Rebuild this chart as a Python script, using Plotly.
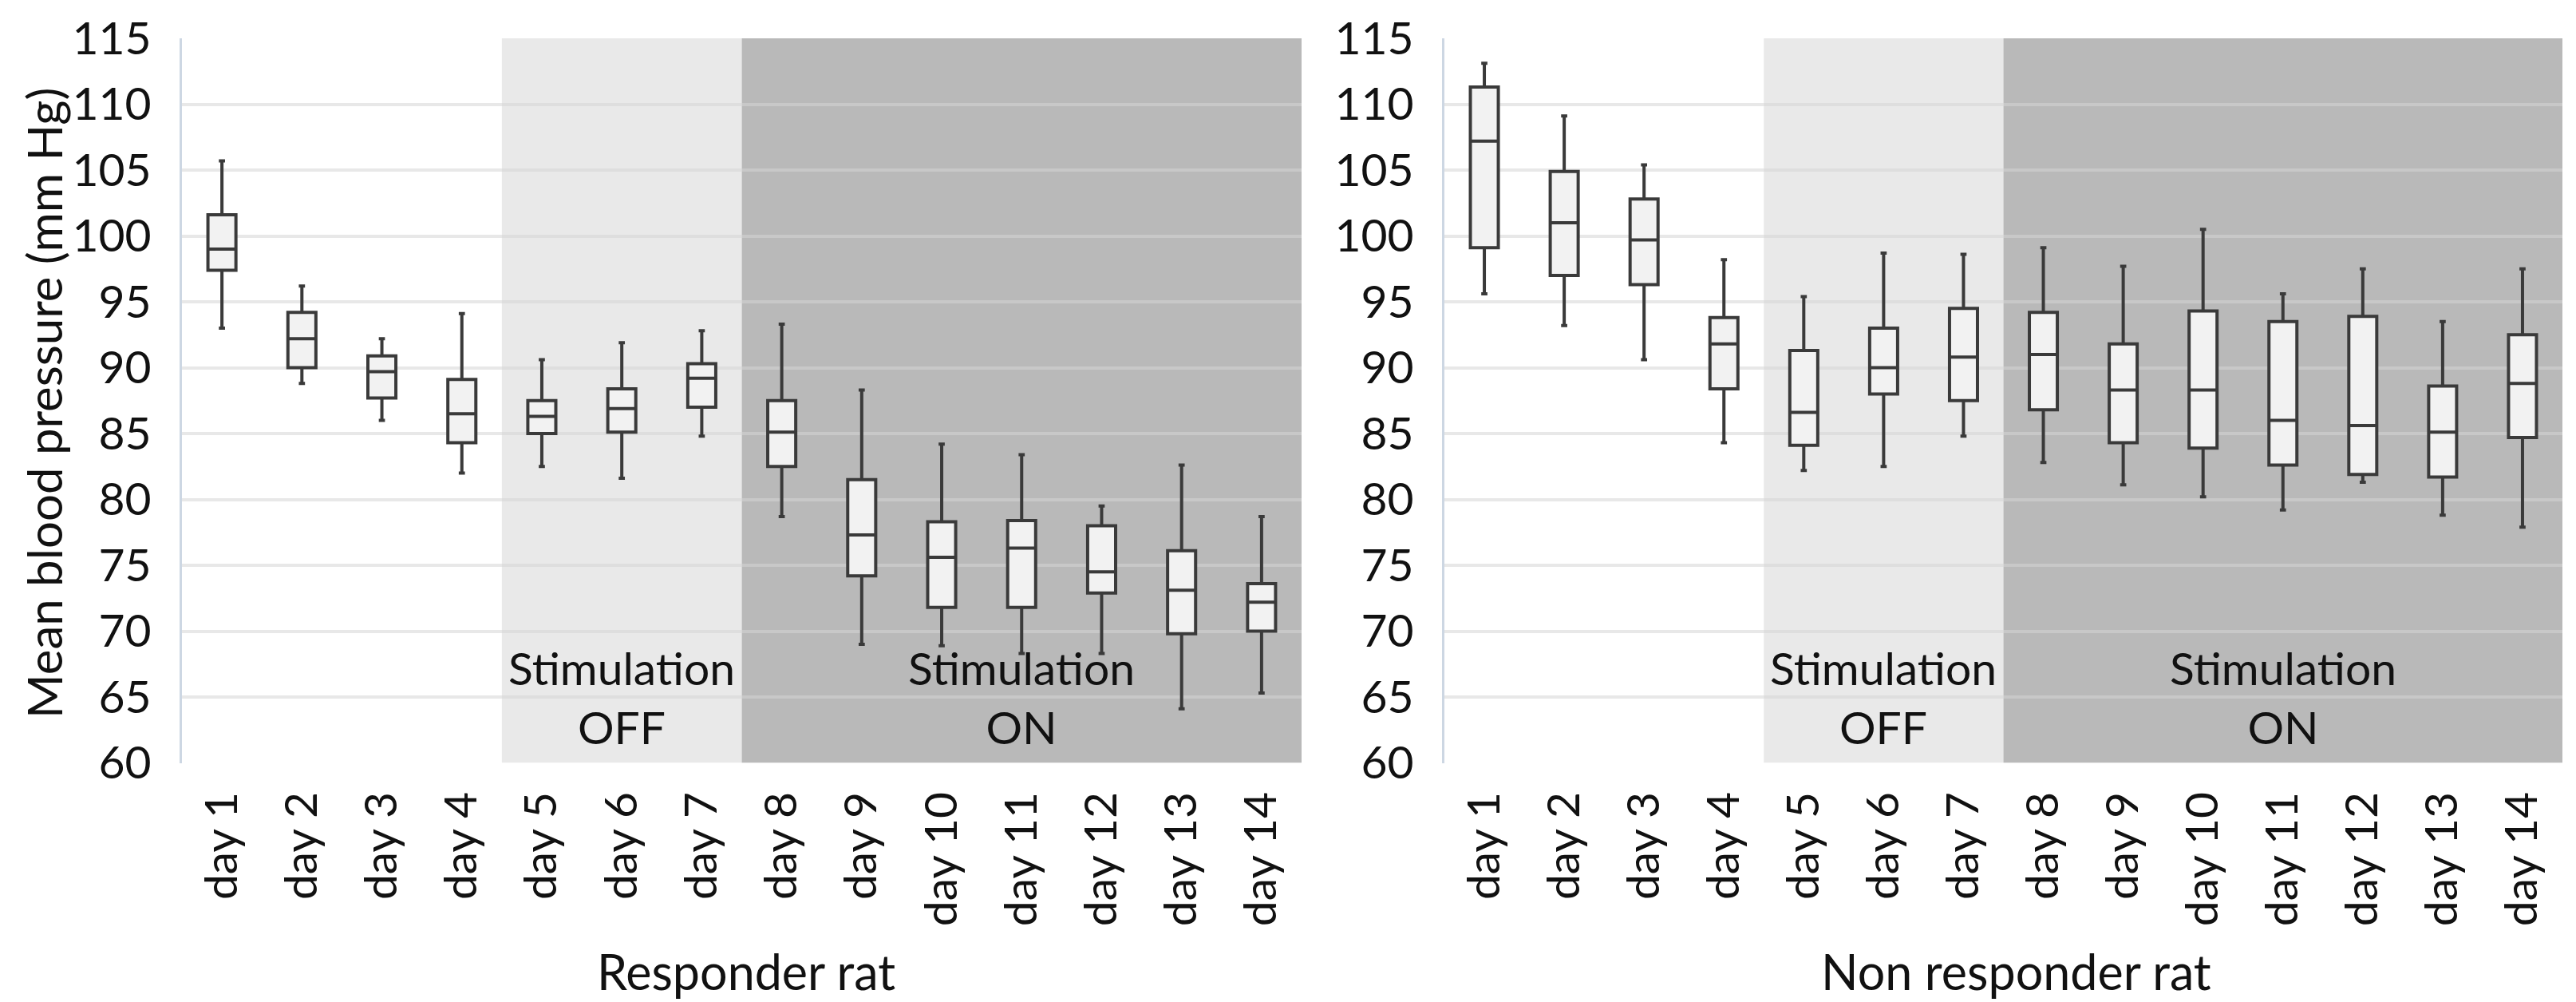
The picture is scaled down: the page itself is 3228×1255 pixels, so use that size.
import plotly.graph_objects as go

days = ["day 1", "day 2", "day 3", "day 4", "day 5", "day 6", "day 7",
        "day 8", "day 9", "day 10", "day 11", "day 12", "day 13", "day 14"]
y_ticks = [60, 65, 70, 75, 80, 85, 90, 95, 100, 105, 110, 115]

# Responder rat
resp_low = [93.0, 88.8, 86.0, 82.0, 82.5, 81.6, 84.8, 78.7, 69.0, 68.9, 68.3, 68.3, 64.1, 65.3]
resp_q1 = [97.4, 90.0, 87.7, 84.3, 85.0, 85.1, 87.0, 82.5, 74.2, 71.8, 71.8, 72.9, 69.8, 70.0]
resp_med = [99.0, 92.2, 89.7, 86.5, 86.3, 86.9, 89.2, 85.1, 77.3, 75.6, 76.3, 74.5, 73.1, 72.2]
resp_q3 = [101.6, 94.2, 90.9, 89.1, 87.5, 88.4, 90.3, 87.5, 81.5, 78.3, 78.4, 78.0, 76.1, 73.6]
resp_high = [105.7, 96.2, 92.2, 94.1, 90.6, 91.9, 92.8, 93.3, 88.3, 84.2, 83.4, 79.5, 82.6, 78.7]

# Non responder rat
non_low = [95.6, 93.2, 90.6, 84.3, 82.2, 82.5, 84.8, 82.8, 81.1, 80.2, 79.2, 81.3, 78.8, 77.9]
non_q1 = [99.1, 97.0, 96.3, 88.4, 84.1, 88.0, 87.5, 86.8, 84.3, 83.9, 82.6, 81.9, 81.7, 84.7]
non_med = [107.2, 101.0, 99.7, 91.8, 86.6, 90.0, 90.8, 91.0, 88.3, 88.3, 86.0, 85.6, 85.1, 88.8]
non_q3 = [111.3, 104.9, 102.8, 93.8, 91.3, 93.0, 94.5, 94.2, 91.8, 94.3, 93.5, 93.9, 88.6, 92.5]
non_high = [113.1, 109.1, 105.4, 98.2, 95.4, 98.7, 98.6, 99.1, 97.7, 100.5, 95.6, 97.5, 93.5, 97.5]

panel_titles = ["Responder rat", "Non responder rat"]
phase_labels = ["Stimulation<br>OFF", "Stimulation<br>ON"]

W, H = 3228, 1255
FONT = "Lato"
FS = 57
TXT = "#111111"

fig = go.Figure()

box_style = dict(fillcolor="#f2f2f2", line=dict(color="#3a3a3a", width=4),
                 whiskerwidth=0.22, boxpoints=False, showlegend=False, hoverinfo="skip")

fig.add_trace(go.Box(x=days, q1=resp_q1, median=resp_med, q3=resp_q3,
                     lowerfence=resp_low, upperfence=resp_high,
                     xaxis="x", yaxis="y", **box_style))
fig.add_trace(go.Box(x=days, q1=non_q1, median=non_med, q3=non_q3,
                     lowerfence=non_low, upperfence=non_high,
                     xaxis="x2", yaxis="y2", **box_style))

ydom = [1 - 947.5 / H, 1 - 40 / H]
xdom1 = [220 / W, 1623 / W]
xdom2 = [1802 / W, 3203 / W]

common_x = dict(type="category", categoryorder="array", categoryarray=days,
                range=[-0.5, 13.5], tickangle=-90, showgrid=False, showline=False,
                zeroline=False, ticks="", ticklabelstandoff=24, automargin=False,
                tickfont=dict(family=FONT, size=FS, color=TXT))
common_y = dict(range=[60, 115], tickvals=y_ticks, ticktext=[str(v) for v in y_ticks],
                showgrid=True, gridcolor="rgba(213,213,213,0.55)", gridwidth=4,
                zeroline=False, showline=True, linecolor="#cdd7e3", linewidth=3,
                ticks="", ticklabelstandoff=24, automargin=False,
                tickfont=dict(family=FONT, size=FS, color=TXT))

fig.update_layout(
    width=W, height=H,
    margin=dict(l=0, r=0, t=0, b=0, autoexpand=False),
    paper_bgcolor="white", plot_bgcolor="white",
    boxgap=0.5,
    xaxis=dict(domain=xdom1, anchor="y", **common_x),
    yaxis=dict(domain=ydom, anchor="x", **common_y),
    xaxis2=dict(domain=xdom2, anchor="y2", **common_x),
    yaxis2=dict(domain=ydom, anchor="x2", **common_y),
)

shapes = []
for xr, yr in [("x", "y"), ("x2", "y2")]:
    shapes.append(dict(type="rect", xref=xr, yref=yr, x0=3.5, x1=6.5, y0=60, y1=115,
                       fillcolor="#e9e9e9", line=dict(width=0), layer="below"))
    shapes.append(dict(type="rect", xref=xr, yref=yr, x0=6.5, x1=13.5, y0=60, y1=115,
                       fillcolor="#b9b9b9", line=dict(width=0), layer="below"))
fig.update_layout(shapes=shapes)

annotations = []
for xr, yr in [("x", "y"), ("x2", "y2")]:
    annotations.append(dict(x="day 6", y=65, xref=xr, yref=yr, text=phase_labels[0],
                            showarrow=False, font=dict(family=FONT, size=FS, color=TXT),
                            xanchor="center", yanchor="middle"))
    annotations.append(dict(x="day 11", y=65, xref=xr, yref=yr, text=phase_labels[1],
                            showarrow=False, font=dict(family=FONT, size=FS, color=TXT),
                            xanchor="center", yanchor="middle"))

annotations.append(dict(x=927 / W, y=1 - 1208 / H, xref="paper", yref="paper",
                        text=panel_titles[0], showarrow=False,
                        font=dict(family=FONT, size=61, color=TXT),
                        xanchor="center", yanchor="middle"))
annotations.append(dict(x=2518 / W, y=1 - 1208 / H, xref="paper", yref="paper",
                        text=panel_titles[1], showarrow=False,
                        font=dict(family=FONT, size=61, color=TXT),
                        xanchor="center", yanchor="middle"))
annotations.append(dict(x=47 / W, y=1 - 497 / H, xref="paper", yref="paper",
                        text="Mean blood pressure (mm Hg)", textangle=-90, showarrow=False,
                        font=dict(family=FONT, size=60, color=TXT),
                        xanchor="center", yanchor="middle"))
fig.update_layout(annotations=annotations)

fig.write_html("out.html")
